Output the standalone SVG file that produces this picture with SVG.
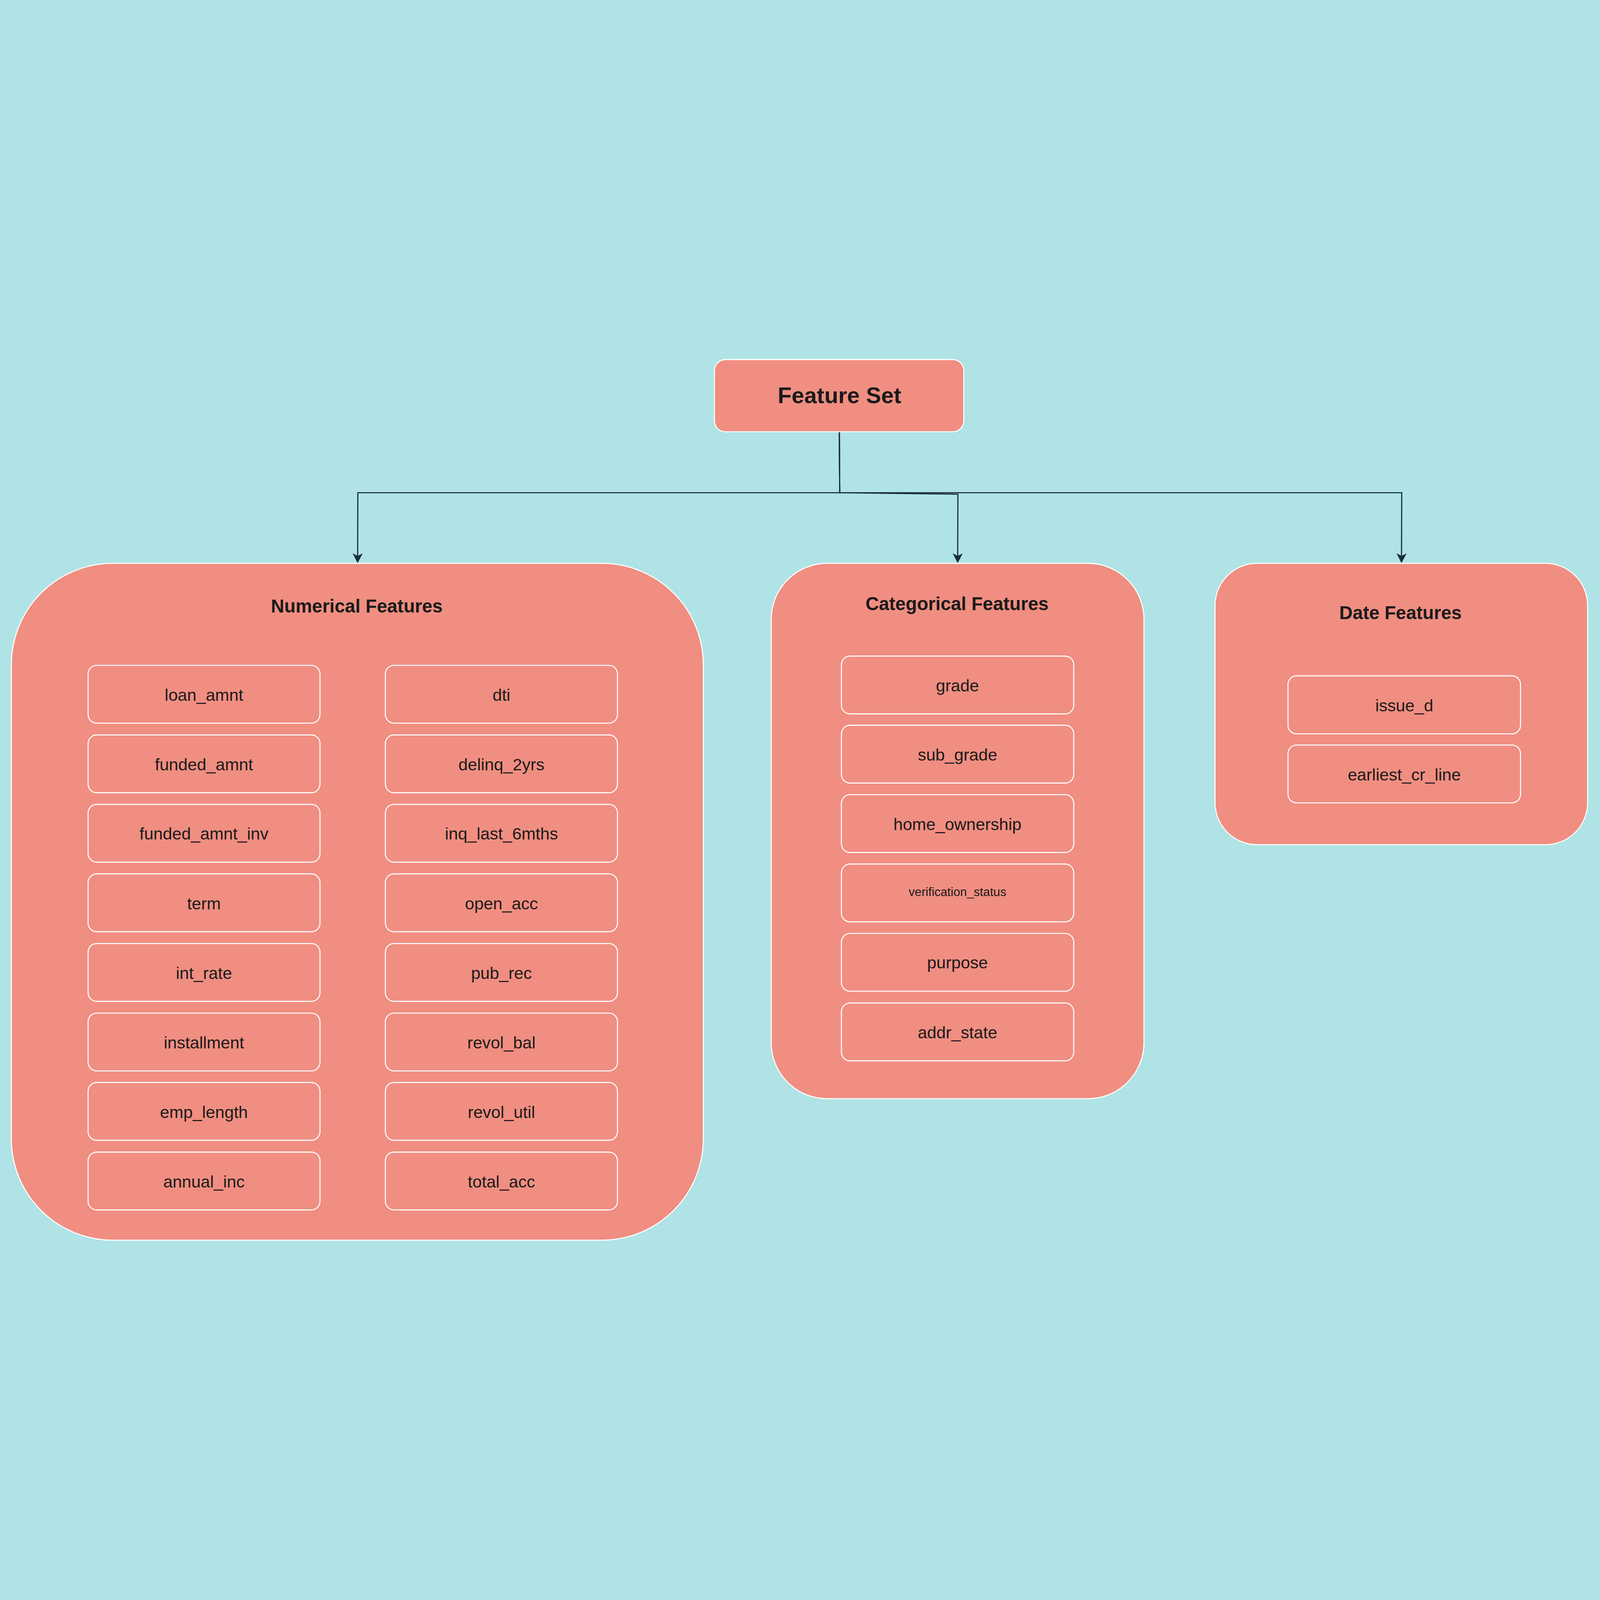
<svg xmlns="http://www.w3.org/2000/svg" width="7610" height="4295" viewBox="0 0 7610 4295">
<style>
svg{width:100vw;height:100vh}
.bg{fill:#B0E3E6}
.node{fill:#F08E81;stroke:#FFFFFF;stroke-width:5}
.item{fill:#F08E81;stroke:#FFFFFF;stroke-width:5}
.t{font-family:"Liberation Sans",Arial,sans-serif;fill:#1A1A1A;text-anchor:middle}
.title{font-weight:bold;font-size:88px}
.big{font-weight:bold;font-size:108px}
.lbl{font-size:80px}
.small{font-size:58px}
.edge{fill:none;stroke:#182E3E;stroke-width:5.5}
</style>
<defs>
<marker id="arr" viewBox="-50 -27 54 54" refX="-21" refY="0" markerWidth="54" markerHeight="54" markerUnits="userSpaceOnUse" orient="auto">
<path d="M0,0 L-47,-24 L-34,0 L-47,24 Z" fill="#182E3E"/>
</marker>
</defs>
<rect class="bg" x="-4000" y="-4000" width="15610" height="12295"/>

<g id="connectors">
<path class="edge" d="M3992,396 L3994,686 L1702,686 L1701,1000" marker-end="url(#arr)"/>
<path class="edge" d="M3992,396 L3994,686 L4556,693 L4555,1000" marker-end="url(#arr)"/>
<path class="edge" d="M3992,396 L3994,686 L6667,686 L6666,1000" marker-end="url(#arr)"/>
</g>

<g id="feature-set">
<rect class="node" x="3398" y="53" width="1186" height="343" rx="52" ry="52"/>
<text class="t big" x="3993" y="260">Feature Set</text>
</g>

<g id="numerical-features">
<rect class="node" x="54" y="1022" width="3291" height="3219" rx="482" ry="482"/>
<text class="t title" x="1697" y="1255">Numerical Features</text>
</g>
<g id="num-loan_amnt"><rect class="item" x="419" y="1507" width="1103" height="275" rx="41"/><text class="t lbl" x="970" y="1675">loan_amnt</text></g>
<g id="num-funded_amnt"><rect class="item" x="419" y="1838" width="1103" height="275" rx="41"/><text class="t lbl" x="970" y="2006">funded_amnt</text></g>
<g id="num-funded_amnt_inv"><rect class="item" x="419" y="2168" width="1103" height="275" rx="41"/><text class="t lbl" x="970" y="2336">funded_amnt_inv</text></g>
<g id="num-term"><rect class="item" x="419" y="2499" width="1103" height="275" rx="41"/><text class="t lbl" x="970" y="2667">term</text></g>
<g id="num-int_rate"><rect class="item" x="419" y="2830" width="1103" height="275" rx="41"/><text class="t lbl" x="970" y="2998">int_rate</text></g>
<g id="num-installment"><rect class="item" x="419" y="3161" width="1103" height="275" rx="41"/><text class="t lbl" x="970" y="3329">installment</text></g>
<g id="num-emp_length"><rect class="item" x="419" y="3491" width="1103" height="275" rx="41"/><text class="t lbl" x="970" y="3659">emp_length</text></g>
<g id="num-annual_inc"><rect class="item" x="419" y="3822" width="1103" height="275" rx="41"/><text class="t lbl" x="970" y="3990">annual_inc</text></g>

<g id="num-dti"><rect class="item" x="1833" y="1507" width="1104" height="275" rx="41"/><text class="t lbl" x="2385" y="1675">dti</text></g>
<g id="num-delinq_2yrs"><rect class="item" x="1833" y="1838" width="1104" height="275" rx="41"/><text class="t lbl" x="2385" y="2006">delinq_2yrs</text></g>
<g id="num-inq_last_6mths"><rect class="item" x="1833" y="2168" width="1104" height="275" rx="41"/><text class="t lbl" x="2385" y="2336">inq_last_6mths</text></g>
<g id="num-open_acc"><rect class="item" x="1833" y="2499" width="1104" height="275" rx="41"/><text class="t lbl" x="2385" y="2667">open_acc</text></g>
<g id="num-pub_rec"><rect class="item" x="1833" y="2830" width="1104" height="275" rx="41"/><text class="t lbl" x="2385" y="2998">pub_rec</text></g>
<g id="num-revol_bal"><rect class="item" x="1833" y="3161" width="1104" height="275" rx="41"/><text class="t lbl" x="2385" y="3329">revol_bal</text></g>
<g id="num-revol_util"><rect class="item" x="1833" y="3491" width="1104" height="275" rx="41"/><text class="t lbl" x="2385" y="3659">revol_util</text></g>
<g id="num-total_acc"><rect class="item" x="1833" y="3822" width="1104" height="275" rx="41"/><text class="t lbl" x="2385" y="3990">total_acc</text></g>

<g id="categorical-features">
<rect class="node" x="3668" y="1022" width="1773" height="2546" rx="266" ry="266"/>
<text class="t title" x="4552" y="1245">Categorical Features</text>
</g>
<g id="cat-grade"><rect class="item" x="4002" y="1463" width="1105" height="275" rx="41"/><text class="t lbl" x="4554" y="1631">grade</text></g>
<g id="cat-sub_grade"><rect class="item" x="4002" y="1792" width="1105" height="275" rx="41"/><text class="t lbl" x="4554" y="1960">sub_grade</text></g>
<g id="cat-home_ownership"><rect class="item" x="4002" y="2122" width="1105" height="275" rx="41"/><text class="t lbl" x="4554" y="2290">home_ownership</text></g>
<g id="cat-verification_status"><rect class="item" x="4002" y="2452" width="1105" height="275" rx="41"/><text class="t small" x="4554" y="2605">verification_status</text></g>
<g id="cat-purpose"><rect class="item" x="4002" y="2782" width="1105" height="275" rx="41"/><text class="t lbl" x="4554" y="2949">purpose</text></g>
<g id="cat-addr_state"><rect class="item" x="4002" y="3113" width="1105" height="275" rx="41"/><text class="t lbl" x="4554" y="3280">addr_state</text></g>

<g id="date-features">
<rect class="node" x="5779" y="1022" width="1772" height="1338" rx="200" ry="200"/>
<text class="t title" x="6661" y="1287">Date Features</text>
</g>
<g id="date-issue_d"><rect class="item" x="6126" y="1557" width="1106" height="276" rx="41"/><text class="t lbl" x="6679" y="1726">issue_d</text></g>
<g id="date-earliest_cr_line"><rect class="item" x="6126" y="1886" width="1106" height="275" rx="41"/><text class="t lbl" x="6679" y="2054">earliest_cr_line</text></g>
</svg>
